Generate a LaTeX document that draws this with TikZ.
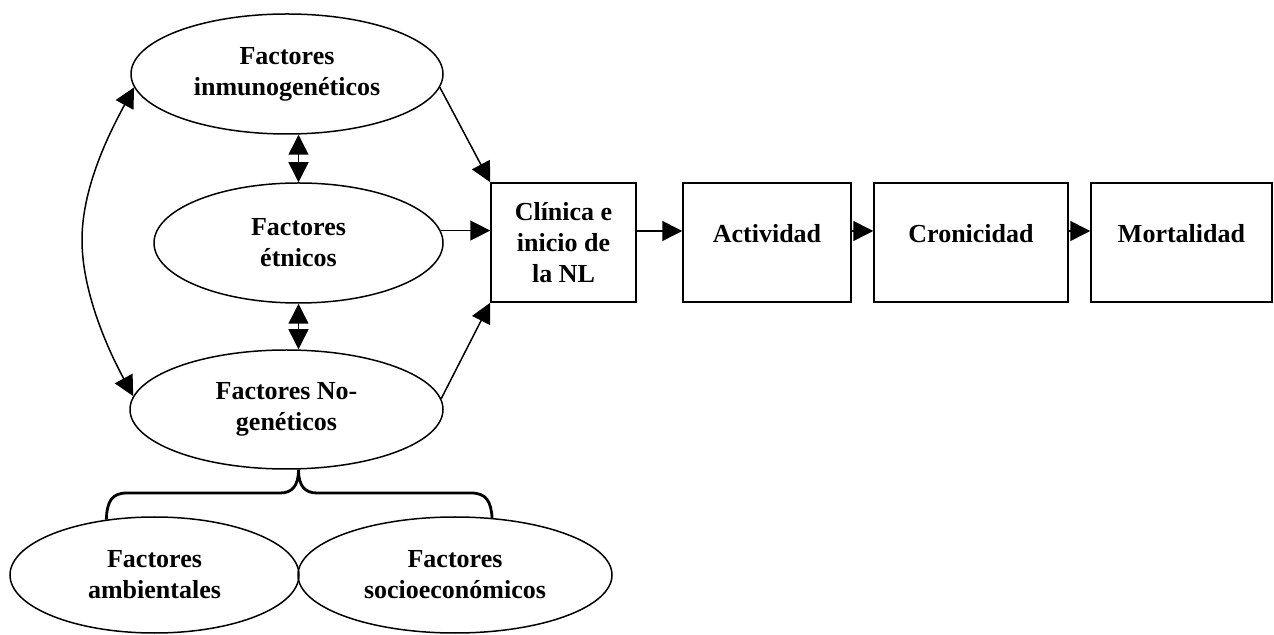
\documentclass[tikz,border=0pt]{standalone}
\usepackage{fontspec}
\setmainfont{Liberation Serif}
\usetikzlibrary{shapes.geometric,arrows.meta}
\begin{document}
\begin{tikzpicture}[x=0.5pt,y=-0.5pt, line width=0.75pt,
  txt/.style={font=\bfseries\fontsize{13pt}{15.5pt}\selectfont, align=center},
  ell/.style={draw, ellipse, inner sep=0pt, txt},
  box/.style={draw, rectangle, inner sep=0pt, minimum height=59.5pt, txt},
  onebox/.style={box, text height=9pt, text depth=9pt},
  arr/.style={-{Triangle[length=10pt,width=10pt]}},
  darr/.style={{Triangle[length=10pt,width=10pt]}-{Triangle[length=10pt,width=10pt]}},
  bracepath/.style={line width=1.4pt}]
\useasboundingbox (0,0) rectangle (1274,635);

% ellipses
\node[ell, minimum width=156pt, minimum height=60pt] (inm) at (287,74) {Factores\\inmunogenéticos};
\node[ell, minimum width=144.5pt, minimum height=60pt] (etn) at (298.5,243) {Factores\\étnicos};
\node[ell, minimum width=156.5pt, minimum height=59.5pt] (nog) at (286.5,409.5) {Factores No-\\genéticos};
\node[ell, minimum width=144.5pt, minimum height=58pt] (amb) at (154.5,575) {Factores\\ambientales};
\node[ell, minimum width=157pt, minimum height=58pt] (soc) at (455,575) {Factores\\socioeconómicos};

% boxes
\node[box, minimum width=72.5pt] (cli) at (563.5,242.5) {Clínica e\\inicio de\\la NL};
\node[onebox, minimum width=84pt] (act) at (767,242.5) {Actividad};
\node[onebox, minimum width=97pt] (cro) at (971,242.5) {Cronicidad};
\node[onebox, minimum width=90.5pt] (mor) at (1181.5,242.5) {Mortalidad};

% arrows to clinic box
\draw[arr] (inm.-5) -- (cli.north west);
\draw[arr] (etn.5) -- (etn.5 -| cli.west);
\draw[arr] (nog.4) -- (cli.south west);

% chain
\draw[arr] ([yshift=5.75pt]cli.east) -- ([yshift=5.75pt]act.west);
\draw[arr] ([yshift=5.75pt]act.east) -- ([yshift=5.75pt]cro.west);
\draw[arr] ([yshift=5.75pt]cro.east) -- ([yshift=5.75pt]mor.west);

% double arrows
\draw[darr] (etn.north |- inm.south) -- (etn.north);
\draw[darr] (etn.south) -- (etn.south |- nog.north);

% curved double arrow
\coordinate (mid) at (82,240);
\draw[darr] (inm.185) .. controls (106.5,138) and (82,190) .. (mid)
  .. controls (82,290) and (106,346) .. (nog.175);

% brace
\coordinate (tip) at (etn.south |- nog.south);
\draw[bracepath] (amb.131) .. controls (107,501) and (112,493) .. (127,493) -- (280,493)
  .. controls (292,493) and (298.5,486) .. (tip)
  .. controls (298.5,486) and (305,493) .. (317,493) -- (471,493)
  .. controls (486,493) and (491,501) .. (soc.57);
\end{tikzpicture}
\end{document}
